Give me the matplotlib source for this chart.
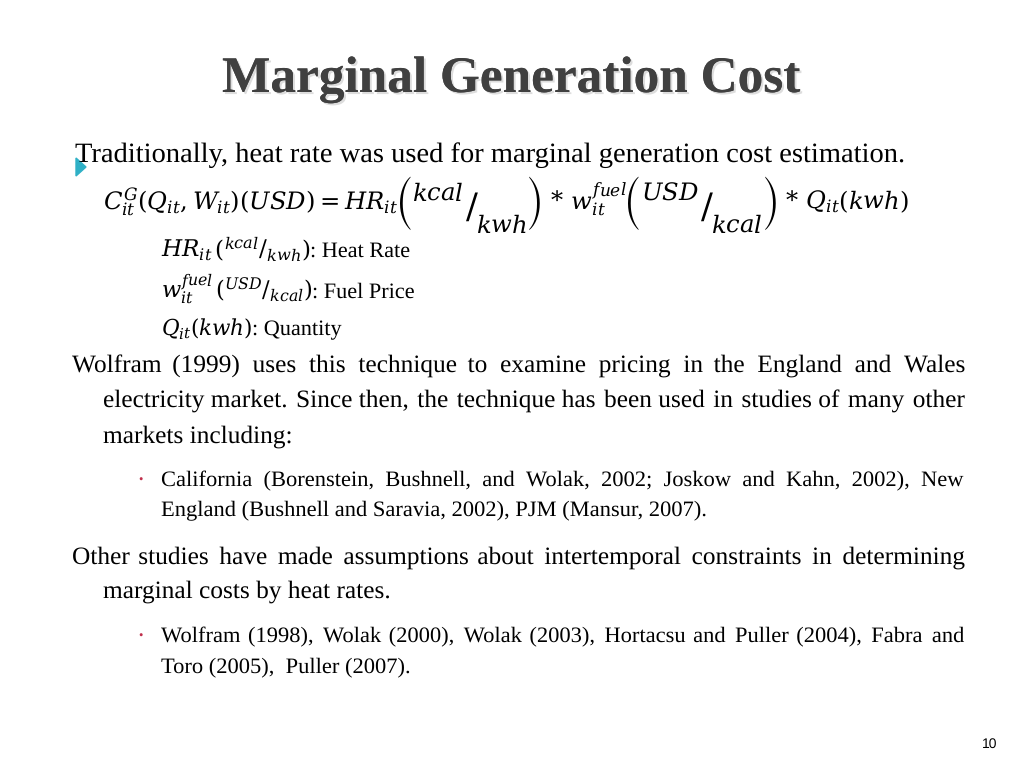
import matplotlib
matplotlib.use("Agg")
import matplotlib.pyplot as plt
import matplotlib.patheffects as pe
from matplotlib.patches import Polygon
from matplotlib.textpath import TextPath
from matplotlib.font_manager import FontProperties, findfont, get_font

plt.rcParams['font.family'] = 'Liberation Serif'
plt.rcParams['mathtext.fontset'] = 'custom'
plt.rcParams['mathtext.rm'] = 'DejaVu Serif'
plt.rcParams['mathtext.it'] = 'DejaVu Serif:italic'
plt.rcParams['mathtext.bf'] = 'DejaVu Serif:bold'
plt.rcParams['text.hinting'] = 'no_hinting'

title = "Marginal Generation Cost"
intro = "Traditionally, heat rate was used for marginal generation cost estimation."
# formula pieces: (text, kind) -- kind: main, up, slash, down, paren
formula = [(r"$C_{it}^{G}(Q_{it},W_{it})(USD)=HR_{it}$", "main"),
           ("(", "paren"), (r"$kcal$", "up"), (r"$/$", "slash"), (r"$kwh$", "down"), (")", "paren"),
           (r"$\,*\,w_{it}^{fuel}$", "main"),
           ("(", "paren"), (r"$USD$", "up"), (r"$/$", "slash"), (r"$kcal$", "down"), (")", "paren"),
           (r"$\,*\,Q_{it}(kwh)$", "main")]
defs = [(r"$HR_{it}\,(^{kcal}/_{kwh})$", ": Heat Rate"),
        (r"$w_{it}^{fuel}\,(^{USD}/_{kcal})$", ": Fuel Price"),
        (r"$Q_{it}(kwh)$", ": Quantity")]
para1 = ["Wolfram (1999) uses this technique to examine pricing in the England and Wales",
         "electricity market. Since then, the technique has been used in studies of many other",
         "markets including:"]
sub1 = ["California (Borenstein, Bushnell, and Wolak, 2002; Joskow and Kahn, 2002), New",
        "England (Bushnell and Saravia, 2002), PJM (Mansur, 2007)."]
para2 = ["Other studies have made assumptions about intertemporal constraints in determining",
         "marginal costs by heat rates."]
sub2 = ["Wolfram (1998), Wolak (2000), Wolak (2003), Hortacsu and Puller (2004), Fabra and",
        "Toro (2005),  Puller (2007)."]
page_no = "10"

fig = plt.figure(figsize=(10.24, 7.68), dpi=100)
ax = fig.add_axes([0, 0, 1, 1])
ax.set_xlim(0, 1024)
ax.set_ylim(768, 0)
ax.axis('off')
renderer = fig.canvas.get_renderer()

# hair space for justification, if the body font has it
body_font = get_font(findfont(FontProperties(family='Liberation Serif')))
HAIR = '\u200a' if 0x200a in body_font.get_charmap() else None

def width_of(s, size, **kw):
    t = ax.text(0, 0, s, fontsize=size, **kw)
    w = t.get_window_extent(renderer).width
    t.remove()
    return w

def fit_text(x, y, s, target, size0, **kw):
    # scale font so the string spans the target width
    size = size0 * target / width_of(s, size0, **kw)
    return ax.text(x, y, s, fontsize=size, va='baseline', **kw)

def justify(line, x0, x1, y, size, last=False):
    if last:
        ax.text(x0, y, line, fontsize=size, va='baseline')
        return
    words = line.split()
    n = len(words) - 1
    if HAIR:
        # widen every gap with hair spaces, kept as one text line
        hw = (width_of('a' + HAIR * 20 + 'a', size) - width_of('aa', size)) / 20
        extra = x1 - x0 - width_of(' '.join(words), size)
        total = max(0, int(round(extra / hw)))
        s = words[0]
        for i, w in enumerate(words[1:]):
            k = total * (i + 1) // n - total * i // n
            s += ' ' + HAIR * k + w
        ax.text(x0, y, s, fontsize=size, va='baseline')
        return
    ws = [width_of(w, size) for w in words]
    gap = (x1 - x0 - sum(ws)) / n
    x = x0
    for w, wd in zip(words, ws):
        ax.text(x, y, w, fontsize=size, va='baseline')
        x += wd + gap

# title with soft shadow
fit_text(222, 92, title, 578, 38, fontweight='bold', color='#404040',
         path_effects=[pe.withSimplePatchShadow(offset=(1.5, -1.5), shadow_rgbFace='#aaaaaa', alpha=0.4),
                       pe.Normal()])

# teal arrow bullet
ax.add_patch(Polygon([[76, 158], [76, 176], [86, 167]], closed=True, color='#2fb0c6'))
fit_text(75, 162, intro, 828, 20)

# main formula assembled from pieces so the slash fractions sit in tall, thin parentheses
PAREN_FONT = 'STIXSizeTwoSym'
STYLE = {"main": (1.0, 0.0, {}),
         "up": (1.0, -0.36, {}),
         "down": (1.0, 0.98, {}),
         "slash": (1.45, 0.38, {})}
ADV = {"main": 1.0, "up": 1.0, "down": 1.0, "slash": 0.75}

def paren_metrics(ch):
    ext = TextPath((0, 0), ch, size=1, prop=FontProperties(family=PAREN_FONT)).get_extents()
    return ext.y0, ext.y1, ext.x0, ext.x1

def layout_formula(size, x0, y0, draw):
    spx = size * 100 / 72
    top, bot = y0 - 32, y0 + 21
    x = x0
    for s, k in formula:
        if k == "paren":
            ymin, ymax, xmin, xmax = paren_metrics(s)
            px = (bot - top) / (ymax - ymin)
            x += 1
            if draw:
                ax.text(x - xmin * px, bot + ymin * px, s, fontsize=px * 72 / 100,
                        va='baseline', family=PAREN_FONT)
            x += (xmax - xmin) * px + 2
            continue
        f, dy, kw = STYLE[k]
        if draw:
            t = ax.text(x, y0 + dy * spx, s, fontsize=size * f, va='baseline', **kw)
            w = t.get_window_extent(renderer).width
        else:
            w = width_of(s, size * f, **kw)
        x += w * ADV[k] + 1
    return x - x0

# fit the formula to its width in the slide
size = 16
for _ in range(3):
    parens = sum(1 for _, k in formula if k == "paren")
    total = layout_formula(size, 0, 0, False)
    fixed = parens * 16
    size = size * (807 - fixed) / (total - fixed)
layout_formula(size, 103, 209, True)

for i, (m, lab) in enumerate(defs):
    y = [257, 298, 335][i]
    t = fit_text(161, y, m, [150, 152, 92][i], 14)
    w = t.get_window_extent(renderer).width
    ax.text(161 + w, y, lab, fontsize=16, va='baseline')

def para(lines, ys, x_first, x_rest, size):
    for i, (ln, y) in enumerate(zip(lines, ys)):
        x0 = x_first if i == 0 else x_rest
        justify(ln, x0, 964, y, size, last=(i == len(lines) - 1))

para(para1, [373, 408, 443], 72, 103, 18.3)
ax.text(138, 484, "•", fontsize=9, color='#c0304c', va='baseline')
para(sub1, [486, 516], 161, 161, 16.2)
para(para2, [564, 598], 72, 103, 18.3)
ax.text(138, 640, "•", fontsize=9, color='#c0304c', va='baseline')
para(sub2, [642, 672], 161, 161, 16.2)

ax.text(990, 748, page_no, fontsize=10, ha='center', va='baseline',
        family='Liberation Sans')

fig.savefig("out.png", dpi=100)
